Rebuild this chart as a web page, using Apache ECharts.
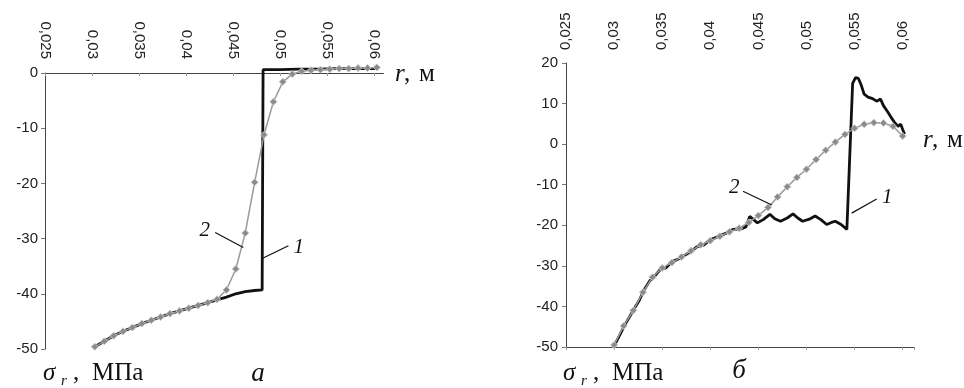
<!DOCTYPE html>
<html><head><meta charset="utf-8">
<script src="https://cdn.jsdelivr.net/npm/echarts@6/dist/echarts.min.js"></script>
<style>html,body{margin:0;padding:0;background:#fff}#c{width:964px;height:388px}</style>
</head><body><div id="c"></div>
<script>
// ---- data (r in m, sigma_r in MPa) ----
const xTickStep = 0.005;
const xMin = 0.025;

// chart "a", curve 1 (black)
const aR1 = [0.0303,0.0313,0.0323,0.0333,0.0343,0.0353,0.0363,0.0373,0.0383,0.0393,0.0403,0.0413,0.0423,0.0433,0.0443,0.0453,0.0463,0.0473,0.0481,0.0482,0.0490,0.0500,0.0520,0.0540,0.0560,0.0580,0.0603];
const aS1 = [-49.6,-48.6,-47.6,-46.8,-46.1,-45.4,-44.8,-44.2,-43.6,-43.1,-42.6,-42.1,-41.6,-41.1,-40.6,-40.0,-39.6,-39.4,-39.3,0.6,0.6,0.6,0.7,0.7,0.8,0.8,0.8];
// chart "a", curve 2 (grey, markers)
const aR2 = [0.0303,0.0313,0.0323,0.0333,0.0343,0.0353,0.0363,0.0373,0.0383,0.0393,0.0403,0.0413,0.0423,0.0433,0.0443,0.0453,0.0463,0.0473,0.0483,0.0493,0.0503,0.0513,0.0523,0.0533,0.0543,0.0553,0.0563,0.0573,0.0583,0.0593,0.0603];
const aS2 = [-49.6,-48.6,-47.6,-46.8,-46.1,-45.4,-44.8,-44.2,-43.6,-43.1,-42.6,-42.1,-41.6,-41.0,-39.3,-35.5,-29.0,-19.8,-11.2,-5.2,-1.6,-0.2,0.3,0.5,0.6,0.7,0.8,0.8,0.9,0.9,1.0];

// chart "б", curve 1 (black)
const bR1 = [0.0301,0.0306,0.0311,0.0316,0.0321,0.0326,0.0331,0.0337,0.0342,0.0348,0.0354,0.0360,0.0366,0.0372,0.0379,0.0386,0.0393,0.0400,0.0408,0.0416,0.0424,0.0432,0.0437,0.0441,0.0445,0.0449,0.0455,0.0462,0.0467,0.0473,0.0480,0.0486,0.0491,0.0496,0.0503,0.0509,0.0515,0.0521,0.0526,0.0530,0.0536,0.0542,0.0548,0.0551,0.0554,0.0557,0.0560,0.0564,0.0568,0.0573,0.0577,0.0580,0.0584,0.0588,0.0592,0.0595,0.0598,0.0600,0.0602];
const bS1 = [-49.3,-47.0,-44.6,-42.6,-40.5,-38.6,-36.0,-33.7,-32.6,-30.9,-30.5,-29.0,-28.4,-27.6,-26.6,-25.3,-24.9,-23.6,-22.8,-22.0,-21.0,-20.9,-20.4,-17.8,-18.6,-19.4,-18.6,-17.3,-18.4,-19.0,-18.2,-17.2,-18.2,-19.0,-18.5,-17.7,-18.6,-19.8,-19.3,-19.0,-19.8,-21.0,15.0,16.4,16.2,14.5,12.3,11.6,11.3,10.6,11.1,9.5,8.1,6.6,5.2,4.4,4.9,3.6,2.5];
// chart "б", curve 2 (grey, markers)
const bR2 = [0.030,0.031,0.032,0.033,0.034,0.035,0.036,0.037,0.038,0.039,0.040,0.041,0.042,0.043,0.044,0.045,0.046,0.047,0.048,0.049,0.050,0.051,0.052,0.053,0.054,0.055,0.056,0.057,0.058,0.059,0.060];
const bS2 = [-49.5,-44.8,-41.0,-36.5,-32.8,-30.5,-29.2,-27.8,-26.3,-24.8,-23.8,-22.7,-21.6,-20.7,-19.3,-17.6,-15.6,-13.0,-10.5,-8.2,-6.2,-3.8,-1.5,0.5,2.4,3.9,4.9,5.3,5.2,4.4,2.0];

// annotation leaders: [label, textR, textS, fromR, fromS, toR, toS]
const annA = [["2",0.0420,-28.5,0.0431,-28.9,0.0461,-31.6],["1",0.0520,-31.6,0.0509,-31.3,0.0481,-33.6]];
const annB = [["2",0.0425,-10.6,0.0434,-11.6,0.0464,-15.0],["1",0.0584,-13.1,0.0573,-13.5,0.0547,-17.0]];

const zip = (xs, ys) => xs.map((x, i) => [x, ys[i]]);
function fmt(v) {
  const k = Math.round((v) / xTickStep);
  if (Math.abs(v - k * xTickStep) > 1e-9) return '';
  return String(parseFloat(v.toFixed(3))).replace('.', ',');
}
const sans = 'Liberation Sans';
const serif = 'Liberation Serif';
const lblStyle = {fontSize: 15, color: '#222', fontFamily: sans};
const axLine = {color: '#444', width: 1};

const chart = echarts.init(document.getElementById('c'), null, {renderer: 'canvas'});
const blackLine = {color: '#111', width: 2.8};
const greyLine = {color: '#9a9a9a', width: 1.5};
const greyItem = {color: '#8a8a8a', borderColor: '#c4c4c4', borderWidth: 1};

chart.setOption({
  animation: false,
  backgroundColor: '#fff',
  grid: [
    {left: 45, top: 73, width: 338.4, height: 276},
    {left: 566, top: 63, width: 348.2, height: 284}
  ],
  xAxis: [
    {gridIndex: 0, type: 'value', min: xMin, max: 0.061, interval: xTickStep, position: 'top',
     axisLine: {onZero: false, lineStyle: axLine},
     axisTick: {inside: true, length: 3, lineStyle: {color: '#999'}},
     axisLabel: Object.assign({rotate: 90, margin: 14, formatter: fmt, showMaxLabel: false}, lblStyle),
     splitLine: {show: false}},
    {gridIndex: 1, type: 'value', min: xMin, max: 0.0612, interval: xTickStep, position: 'top',
     axisLine: {show: false}, axisTick: {show: false},
     axisLabel: Object.assign({rotate: 90, margin: 13, formatter: fmt, showMaxLabel: false}, lblStyle),
     splitLine: {show: false}},
    {gridIndex: 1, type: 'value', min: xMin, max: 0.0612, interval: xTickStep, position: 'bottom',
     axisLine: {onZero: true, lineStyle: axLine},
     axisTick: {show: true, length: 3, lineStyle: {color: '#999'}},
     axisLabel: {show: false}, splitLine: {show: false}}
  ],
  yAxis: [
    {gridIndex: 0, type: 'value', min: -50, max: 0, interval: 10,
     axisLine: {show: true, onZero: false, lineStyle: axLine},
     axisTick: {show: true, length: 4, lineStyle: {color: '#777'}},
     axisLabel: Object.assign({margin: 7}, lblStyle), splitLine: {show: false}},
    {gridIndex: 1, type: 'value', min: -50, max: 20, interval: 10,
     axisLine: {show: true, onZero: false, lineStyle: axLine},
     axisTick: {show: true, length: 4, lineStyle: {color: '#777'}},
     axisLabel: Object.assign({margin: 8}, lblStyle), splitLine: {show: false}}
  ],
  series: [
    {type: 'line', xAxisIndex: 0, yAxisIndex: 0, data: zip(aR1, aS1), clip: false, showSymbol: false, symbol: 'none', lineStyle: blackLine, z: 2},
    {type: 'line', xAxisIndex: 0, yAxisIndex: 0, data: zip(aR2, aS2), clip: false, symbol: 'diamond', symbolSize: 7, lineStyle: greyLine, itemStyle: greyItem, z: 3},
    {type: 'line', xAxisIndex: 2, yAxisIndex: 1, data: zip(bR1, bS1), clip: false, showSymbol: false, symbol: 'none', lineStyle: blackLine, z: 2},
    {type: 'line', xAxisIndex: 2, yAxisIndex: 1, data: zip(bR2, bS2), clip: false, symbol: 'diamond', symbolSize: 7, lineStyle: greyLine, itemStyle: greyItem, z: 3}
  ]
});

function txt(x, y, text, font, align) {
  return {type: 'text', x: x, y: y, z: 10,
    style: {text: text, font: font, fill: '#111', align: align || 'left', verticalAlign: 'middle'}};
}
const g = [];
function addAnn(list, finder) {
  list.forEach(a => {
    const t = chart.convertToPixel(finder, [a[1], a[2]]);
    const p1 = chart.convertToPixel(finder, [a[3], a[4]]);
    const p2 = chart.convertToPixel(finder, [a[5], a[6]]);
    g.push(txt(t[0], t[1], a[0], 'italic 21px "' + serif + '"', 'center'));
    g.push({type: 'line', z: 10, shape: {x1: p1[0], y1: p1[1], x2: p2[0], y2: p2[1]}, style: {stroke: '#111', lineWidth: 1.2}});
  });
}
addAnn(annA, {xAxisIndex: 0, yAxisIndex: 0});
addAnn(annB, {xAxisIndex: 2, yAxisIndex: 1});

const big = '25px "' + serif + '"';
const bigI = 'italic 25px "' + serif + '"';
function sigmaLabel(x0, y0) {
  g.push(txt(x0, y0, 'σ', bigI));
  g.push(txt(x0 + 18, y0 + 8, 'r', 'italic 15px "' + serif + '"'));
  g.push(txt(x0 + 30, y0, ',', big));
  g.push(txt(x0 + 49, y0, 'МПа', big));
}
sigmaLabel(43, 373);
sigmaLabel(563, 373);
g.push(txt(258, 374, 'a', 'italic 27px "' + serif + '"', 'center'));
g.push(txt(739, 371, 'б', 'italic 27px "' + serif + '"', 'center'));
function rLabel(x0, y0) {
  g.push(txt(x0, y0, 'r', bigI));
  g.push(txt(x0 + 9, y0, ',', big));
  g.push(txt(x0 + 24, y0, 'м', big));
}
rLabel(395, 74);
rLabel(923, 140);

chart.setOption({graphic: g});
</script>
</body></html>
